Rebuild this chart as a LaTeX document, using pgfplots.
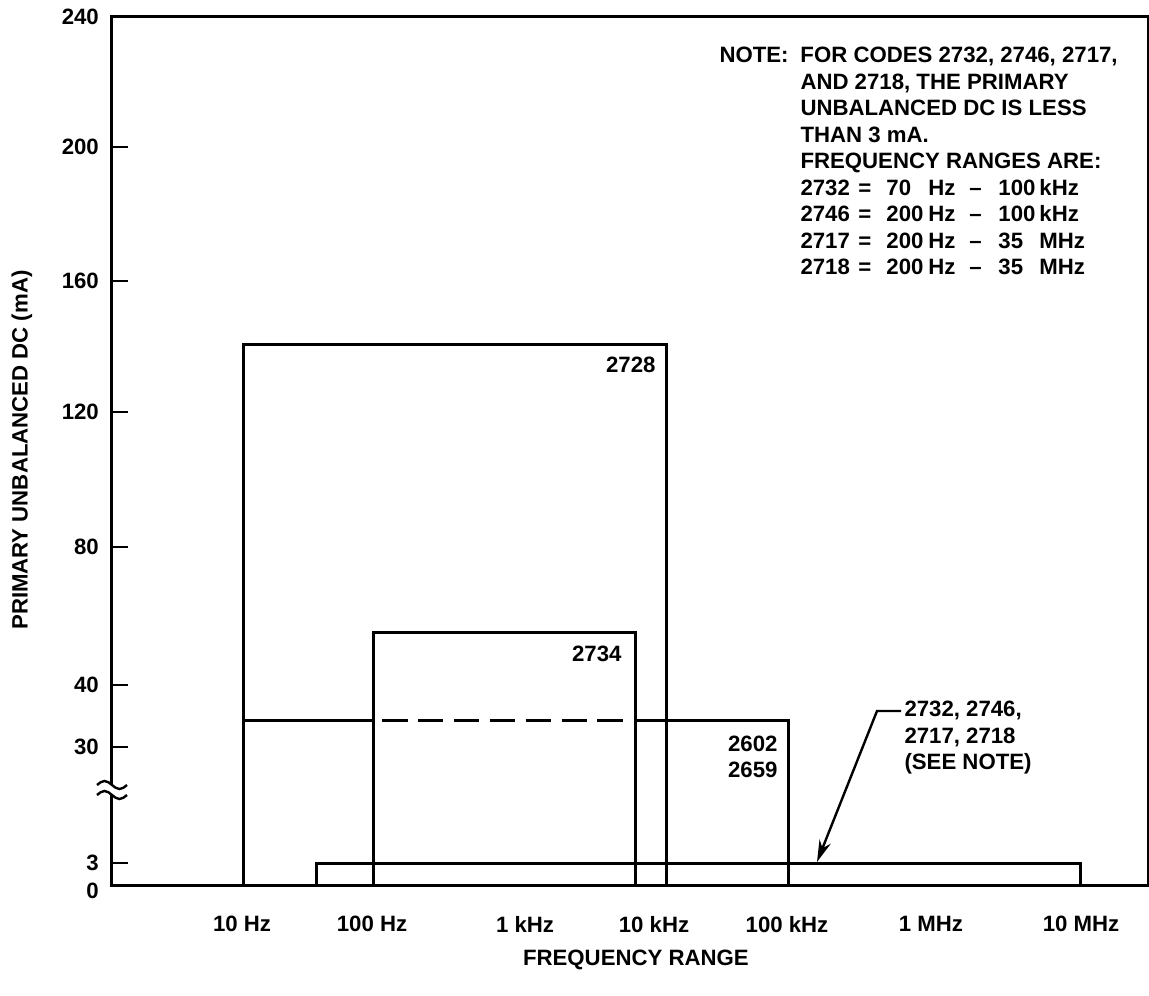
\documentclass[border=0pt]{standalone}
\usepackage{pgfplots}
\pgfplotsset{compat=1.18}
\usepackage{fontspec}
\setmainfont{Liberation Sans}
\usetikzlibrary{arrows.meta,calc}

\newcommand{\fr}[5]{\makebox[29pt][l]{#1}\makebox[14pt][l]{=}\makebox[21pt][l]{#2}\makebox[20.5pt][l]{#3}\makebox[14.5pt][l]{--}\makebox[20.5pt][l]{#4}#5}
\pgfplotsset{bar/.style={black, solid, no marks, line width=1.5pt, line join=miter, sharp plot}}

\begin{document}
\begin{tikzpicture}[font=\fontsize{11.1}{13.25}\selectfont\bfseries]
\begin{axis}[
  scale only axis, width=518pt, height=434pt,
  xmin=112, xmax=1148, ymin=0, ymax=868,
  line width=1.5pt,
  axis line style={line width=1.5pt},
  clip=false,
  /pgf/number format/assume math mode=true,
  xtick={242,372,525,654,787,931,1081},
  xticklabels={10 Hz,100 Hz,1 kHz,10 kHz,100 kHz,1 MHz,10 MHz},
  x tick style={draw=none},
  xticklabel style={yshift=-11.5pt},
  ytick={22,138,200,338,473,604,738,868},
  yticklabels={3,30,40,80,120,160,200,240},
  extra y ticks={0}, extra y tick labels={0},
  extra y tick style={yticklabel style={yshift=-3pt}},
  ytick pos=left, tick align=inside, major tick length=8pt,
  y tick style={line width=1.3pt, black},
  yticklabel style={xshift=-2.5pt},
  xlabel={FREQUENCY RANGE}, ylabel={PRIMARY UNBALANCED DC (mA)},
  xlabel style={at={(axis description cs:0.5057,-0.0864)}, anchor=center},
  ylabel style={at={(axis description cs:-0.0869,0.501)}, anchor=center},
]
% 2728
\addplot[bar] coordinates {(243,0) (243,540) (666,540) (666,0)};
% 2734
\addplot[bar] coordinates {(373,0) (373,252) (635,252) (635,0)};
% 2602 / 2659
\addplot[bar] coordinates {(243,165) (373,165)};
\addplot[bar, dash pattern=on 12.75pt off 5.2pt] coordinates {(382,165) (623,165)};
\addplot[bar] coordinates {(635,165) (788,165) (788,0)};
% 2732, 2746, 2717, 2718
\addplot[bar] coordinates {(316,0) (316,22) (1080,22) (1080,0)};

\node[anchor=east, inner sep=0] at (axis cs:657,520) {2728};
\node[anchor=east, inner sep=0] at (axis cs:623,231) {2734};
\node[anchor=east, inner sep=0, align=right] at (axis cs:779,128) {2602\\2659};
\node[anchor=west, inner sep=0, align=left] at (axis cs:903,147) {2732, 2746,\\2717, 2718\\(SEE NOTE)};
\draw[line width=1.2pt, -{Stealth[length=11pt,width=6pt]}] (axis cs:901,174) -- (axis cs:877,174) -- (axis cs:817,23);

\node[anchor=base west, inner sep=0] at (axis cs:718,822) {\begin{tabular}[t]{@{}p{40.5pt}@{}l@{}}
NOTE: & FOR CODES 2732, 2746, 2717,\\
 & AND 2718, THE PRIMARY\\
 & UNBALANCED DC IS LESS\\
 & THAN 3 mA.\\
 & FREQUENCY RANGES ARE:\\
 & \fr{2732}{70}{Hz}{100}{kHz}\\
 & \fr{2746}{200}{Hz}{100}{kHz}\\
 & \fr{2717}{200}{Hz}{35}{MHz}\\
 & \fr{2718}{200}{Hz}{35}{MHz}
\end{tabular}};

\coordinate (brk) at (axis cs:112,95);
\end{axis}
% axis break symbol
\fill[white] ($(brk)+(-3pt,-2.5pt)$) rectangle ($(brk)+(3pt,2.5pt)$);
\draw[line width=1.2pt] ($(brk)+(-7.5pt,2.5pt)$) sin ($(brk)+(-3.75pt,4.5pt)$) cos ($(brk)+(0pt,2.5pt)$) sin ($(brk)+(3.75pt,0.5pt)$) cos ($(brk)+(7.5pt,2.5pt)$);
\draw[line width=1.2pt] ($(brk)+(-7.5pt,-2.5pt)$) sin ($(brk)+(-3.75pt,-0.5pt)$) cos ($(brk)+(0pt,-2.5pt)$) sin ($(brk)+(3.75pt,-4.5pt)$) cos ($(brk)+(7.5pt,-2.5pt)$);
\pgfresetboundingbox
\path (-56pt,-55pt) rectangle (518.5pt,442.5pt);
\end{tikzpicture}
\end{document}
